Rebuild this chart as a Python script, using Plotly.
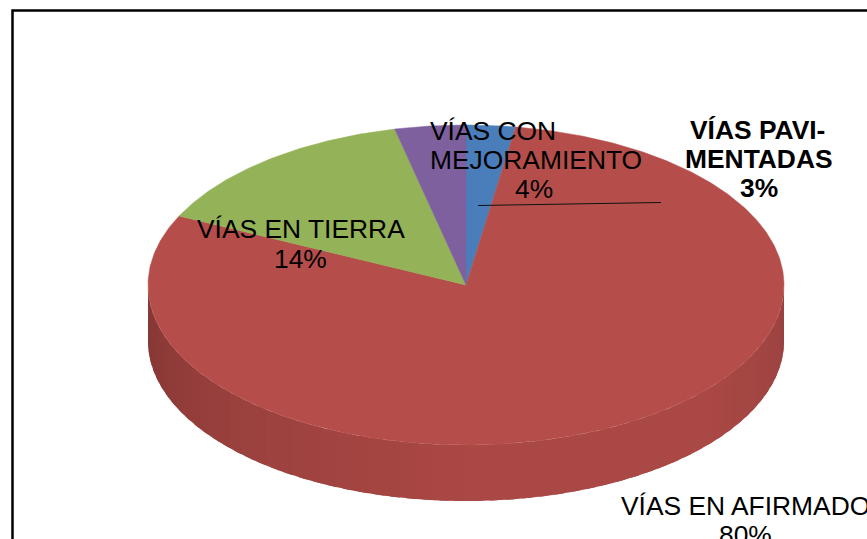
import numpy as np
import plotly.graph_objects as go

categories = ["VÍAS PAVI-MENTADAS", "VÍAS EN AFIRMADO", "VÍAS EN TIERRA", "VÍAS CON MEJORAMIENTO"]
values = [2.5, 79.6, 14.3, 3.6]
percent_labels = ["3%", "80%", "14%", "4%"]
colors = ["#4A7EBB", "#B54E4B", "#94B257", "#7F609F"]

W, H = 867, 539
CX, CY, RX, RY, DEPTH = 466, 285, 318, 160, 56


def ex(t):
    return CX + RX * np.sin(t)


def ey(t):
    return CY - RY * np.cos(t)


fig = go.Figure()

# side wall of the front half (belongs to the afirmado slice)
side_stops = [(90, (150, 66, 63)), (100, (158, 68, 66)), (130, (170, 72, 69)), (180, (170, 72, 69)),
              (225, (155, 65, 62)), (255, (140, 58, 56)), (270, (130, 54, 52))]
n_bands = 60
edges = np.linspace(np.pi / 2, 3 * np.pi / 2, n_bands + 1)
step = edges[1] - edges[0]
for a, b in zip(edges[:-1], edges[1:]):
    mid = np.degrees((a + b) / 2)
    col = [np.interp(mid, [s[0] for s in side_stops], [s[1][i] for s in side_stops]) for i in range(3)]
    c = "rgb(%d,%d,%d)" % tuple(col)
    t = np.linspace(a, min(b + step * 0.6, 3 * np.pi / 2), 6)
    xs = np.r_[ex(t), ex(t)[::-1]]
    ys = np.r_[ey(t), ey(t)[::-1] + DEPTH]
    fig.add_trace(go.Scatter(x=xs, y=ys, mode="none", fill="toself", fillcolor=c,
                             hoverinfo="skip", showlegend=False))

# top face, built from the slice values
total = sum(values)
start = 0.0
for name, val, col in zip(categories, values, colors):
    end = start + val / total * 2 * np.pi
    t = np.linspace(start, end, max(4, int(val * 6)))
    xs = np.r_[CX, ex(t), CX]
    ys = np.r_[CY, ey(t), CY]
    fig.add_trace(go.Scatter(x=xs, y=ys, mode="lines", fill="toself", fillcolor=col,
                             line=dict(color=col, width=0.5), name=name, showlegend=False,
                             hoverinfo="name"))
    start = end

# leader line
fig.add_trace(go.Scatter(x=[478, 661], y=[205.5, 202.5], mode="lines",
                         line=dict(color="#111111", width=1), hoverinfo="skip", showlegend=False))

FONT = "Liberation Sans, Arial, sans-serif"
lines = [
    ("VÍAS CON", 428, 131, "left", False),
    ("MEJORAMIENTO", 428, 160, "left", False),
    (percent_labels[3], 534, 189, "center", False),
    ("VÍAS EN TIERRA", 301, 229, "center", False),
    (percent_labels[2], 300, 259, "center", False),
    ("VÍAS PAVI-", 757, 130, "center", True),
    ("MENTADAS", 759, 159, "center", True),
    (percent_labels[0], 759, 188, "center", True),
    ("VÍAS EN AFIRMADO", 619, 506, "left", False),
    (percent_labels[1], 745, 535, "center", False),
]
for txt, x, y, anchor, bold in lines:
    fig.add_annotation(x=x, y=y, xref="x", yref="y", text=f"<b>{txt}</b>" if bold else txt,
                       showarrow=False, xanchor=anchor, yanchor="middle",
                       font=dict(family=FONT, size=26.4, color="#000000"))

# outer frame, running off the page on the right and bottom
fig.add_shape(type="rect", x0=12.5, y0=10.5, x1=W + 20, y1=H + 20, xref="x", yref="y",
              line=dict(color="#000000", width=2.5), layer="above")

fig.update_layout(
    width=W, height=H, margin=dict(l=0, r=0, t=0, b=0),
    paper_bgcolor="white", plot_bgcolor="white", showlegend=False,
    xaxis=dict(range=[0, W], visible=False, fixedrange=True),
    yaxis=dict(range=[H, 0], visible=False, fixedrange=True),
)
fig.write_html("out.html", config={"displayModeBar": False},
               post_script="document.body.style.margin='0';document.body.style.overflow='hidden';")
